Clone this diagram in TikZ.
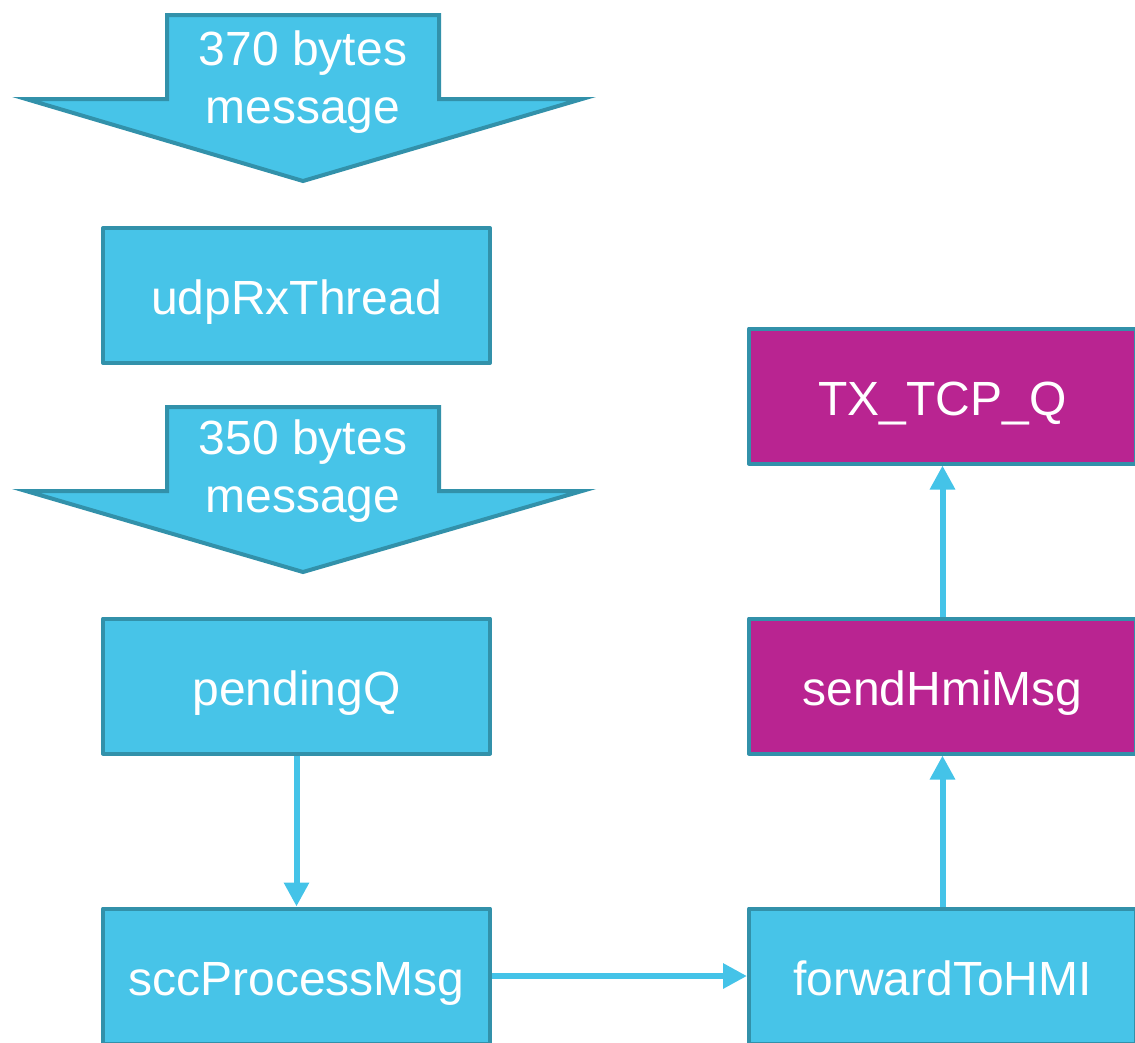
\documentclass[tikz,border=0pt]{standalone}
\usepackage{fontspec}
\setmainfont{Liberation Sans}
\usetikzlibrary{arrows.meta}
\definecolor{boxblue}{HTML}{47C4E8}
\definecolor{boxedge}{HTML}{3291AA}
\definecolor{boxmag}{HTML}{B92491}
\definecolor{linkblue}{HTML}{44C3E8}
\begin{document}
\begin{tikzpicture}[x=1pt,y=-1pt,
  block/.style={draw=boxedge, line width=4pt, fill=boxblue, minimum width=387pt,
    minimum height=135pt, text=white, font=\fontsize{48}{57.6}\selectfont,
    inner sep=0pt, text height=38pt, text depth=0pt, line join=round},
  queue/.style={block, fill=boxmag},
  link/.style={draw=linkblue, line width=6pt, -{Triangle[width=24pt,length=24pt]}},
  bigarrow/.style={draw=boxedge, line width=4pt, fill=boxblue, line join=miter},
  arrowtext/.style={text=white, font=\fontsize{48}{57.6}\selectfont, align=center, inner sep=0pt}
]
\useasboundingbox (0,0) rectangle (1135,1042);
\clip (0,0) rectangle (1135,1042);

% incoming message block arrows
\draw[bigarrow] (167,15) -- (439,15) -- (439,99) -- (582,99) -- (303,181)
  -- (26,99) -- (167,99) -- cycle;
\node[arrowtext] (msgin) at (303,82) {370 bytes\\message};

\draw[bigarrow] (167,407) -- (439,407) -- (439,491) -- (582,491) -- (303,572)
  -- (26,491) -- (167,491) -- cycle;
\node[arrowtext] (msgout) at (303,471) {350 bytes\\message};

% processing stages
\node[block] (udp) at (296.5,295.5) {udpRxThread};
\node[block] (pending) at (296.5,686) {pendingQ};
\node[block] (scc) at (296.5,976) {sccProcessMsg};
\node[block] (fwd) at (942.5,976) {forwardToHMI};
\node[queue] (send) at (942.5,686) {sendHmiMsg};
\node[queue] (txq) at (942.5,396) {TX\_TCP\_Q};

% data flow
\draw[link] (pending.south) -- (scc.north);
\draw[link] (scc.east) -- (fwd.west);
\draw[link] (fwd.north) -- (send.south);
\draw[link] (send.north) -- (txq.south);
\end{tikzpicture}
\end{document}
